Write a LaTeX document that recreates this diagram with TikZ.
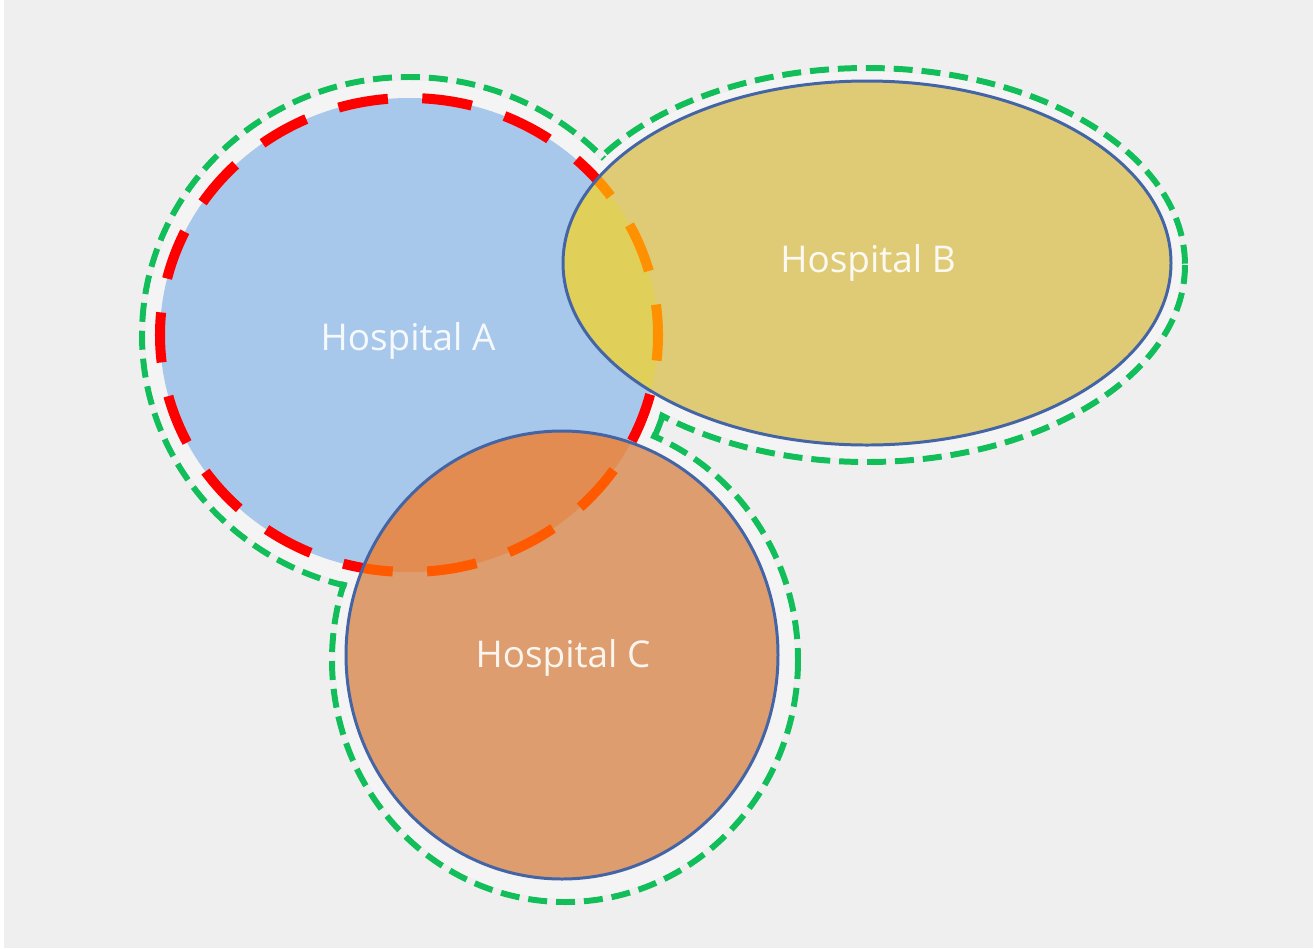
\documentclass[tikz,border=0pt]{standalone}
\usepackage{fontspec}
\setmainfont{Open Sans}
\usepackage{tikz}

\definecolor{bgGray}{HTML}{EFEFEF}
\definecolor{haloGray}{HTML}{F4F4F4}
\definecolor{zoneGreen}{HTML}{12BE5A}
\definecolor{rimBlue}{HTML}{4465A5}
\definecolor{fillA}{HTML}{A7C8EA}
\definecolor{fillB}{HTML}{DFCB76}
\definecolor{fillAB}{HTML}{E0D05A}
\definecolor{fillC}{HTML}{DE9D6E}
\definecolor{fillAC}{HTML}{E28C52}
\definecolor{dashB}{HTML}{FF9000}
\definecolor{dashC}{HTML}{FF5A00}

\begin{document}
\begin{tikzpicture}[
            x=0.02cm,   % 1 unit = 1 px
            y=-0.02cm,  % y downwards as in the picture
            greenline/.style={draw=zoneGreen, line width=3.4pt, dash pattern=on 10.8pt off 5.1pt},
            redline/.style={line width=5.7pt, dash pattern=on 28.5pt off 19.6pt, dash phase=13.9pt},
            rim/.style={draw=rimBlue, line width=1.7pt},
            hosptext/.style={text=white, text opacity=0.9, font=\fontsize{21}{24}\selectfont}
        ]
            % background
            \fill[white] (0,0) rectangle (1315,948);
            \fill[bgGray] (4,0) rectangle (1313,948);
            \useasboundingbox (0,0) rectangle (1315,948);

            % centres
            \coordinate (ca) at (409,335);
            \coordinate (cb) at (867,263);
            \coordinate (cc) at (562,655);
            \coordinate (ga) at (409,335);
            \coordinate (gb) at (867,265);
            \coordinate (gc) at (565,660);

            % green dashed outline of the whole zone
            \draw[greenline] (ga) ellipse [x radius=267, y radius=258];
            \draw[greenline] (gb) ellipse [x radius=318, y radius=197];
            \draw[greenline] (gc) ellipse [x radius=233, y radius=242];
            \fill[haloGray] (ga) ellipse [x radius=263.5, y radius=254.5];
            \fill[haloGray] (gb) ellipse [x radius=314.5, y radius=193.5];
            \fill[haloGray] (gc) ellipse [x radius=229.5, y radius=238.5];

            % Hospital A
            \fill[fillA] (ca) ellipse [x radius=249, y radius=237];
            \draw[redline, draw=red] (ca) ellipse [x radius=249, y radius=237];

            % Hospital B
            \fill[fillB] (cb) ellipse [x radius=304, y radius=182];
            \begin{scope}
                \clip (ca) ellipse [x radius=249, y radius=237];
                \fill[fillAB] (cb) ellipse [x radius=304, y radius=182];
            \end{scope}
            \begin{scope}
                \clip (cb) ellipse [x radius=304, y radius=182];
                \draw[redline, draw=dashB] (ca) ellipse [x radius=249, y radius=237];
            \end{scope}
            \draw[rim] (cb) ellipse [x radius=304, y radius=182];

            % Hospital C
            \fill[fillC] (cc) ellipse [x radius=216, y radius=224];
            \begin{scope}
                \clip (ca) ellipse [x radius=249, y radius=237];
                \fill[fillAC] (cc) ellipse [x radius=216, y radius=224];
            \end{scope}
            \begin{scope}
                \clip (cc) ellipse [x radius=216, y radius=224];
                \draw[redline, draw=dashC] (ca) ellipse [x radius=249, y radius=237];
            \end{scope}
            \draw[rim] (cc) ellipse [x radius=216, y radius=224];

            % labels
            \node[hosptext] (hospA) at (408,341) {Hospital A};
            \node[hosptext] (hospB) at (868,263) {Hospital B};
            \node[hosptext] (hospC) at (563,658) {Hospital C};
        \end{tikzpicture}
\end{document}
